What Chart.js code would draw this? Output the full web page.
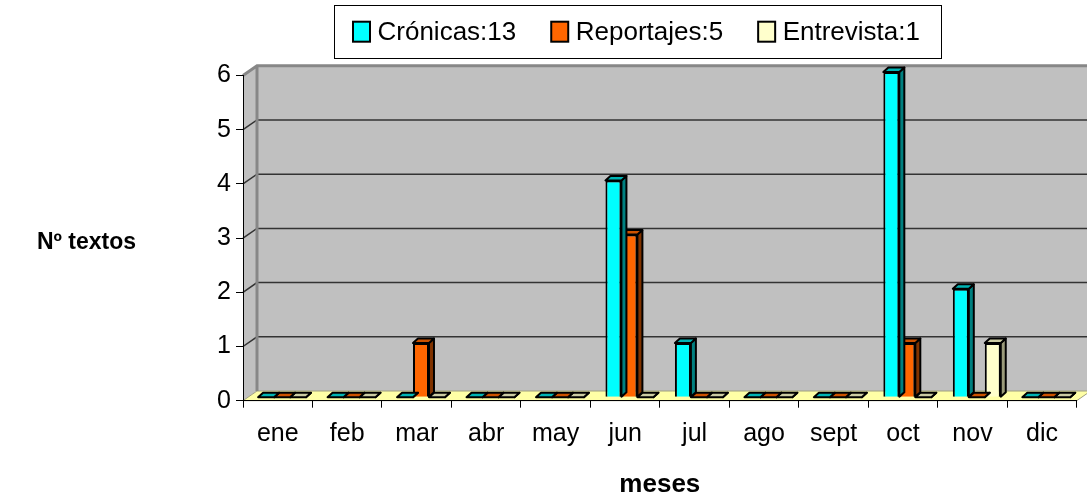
<!DOCTYPE html>
<html lang="es">
<head>
    <meta charset="UTF-8">
    <title>Textos por mes</title>
    <script src="https://cdn.jsdelivr.net/npm/chart.js@4"></script>
    <style>
        html, body { margin: 0; padding: 0; background: #fff; }
        #wrap { width: 1087px; height: 499px; }
    </style>
</head>
<body>
    <div id="wrap"><canvas id="chart" width="1087" height="499"></canvas></div>
    <script>
        // datos
        const meses = ["ene", "feb", "mar", "abr", "may", "jun", "jul", "ago", "sept", "oct", "nov", "dic"];
        const cronicas = [0, 0, 0, 0, 0, 4, 1, 0, 0, 6, 2, 0];
        const reportajes = [0, 0, 1, 0, 0, 3, 0, 0, 0, 1, 0, 0];
        const entrevista = [0, 0, 0, 0, 0, 0, 0, 0, 0, 0, 1, 0];
        const nombres = ["Crónicas:13", "Reportajes:5", "Entrevista:1"];
        const yMin = 0, yMax = 6, yPaso = 1;

        const PARED = { dx: 14, dy: -9.7 };   // profundidad de las paredes
        const BARRA = { dx: 5, dy: -4.5 };    // profundidad de las barras
        const DESPL = { x: 4.3, y: -3.5 };    // barras en medio del suelo
        const FUENTE = "'Liberation Sans', Arial, sans-serif";

        const poligono = (ctx, pts, relleno, borde, grosor) => {
            ctx.beginPath();
            ctx.moveTo(pts[0][0], pts[0][1]);
            pts.slice(1).forEach((p) => ctx.lineTo(p[0], p[1]));
            ctx.closePath();
            if (relleno) { ctx.fillStyle = relleno; ctx.fill(); }
            if (borde) { ctx.strokeStyle = borde; ctx.lineWidth = grosor; ctx.stroke(); }
        };

        // leyenda con marco, al estilo de Excel
        const dibujarLeyenda = (chart) => {
            const ctx = chart.ctx;
            const yc = 31.7;
            ctx.font = "26px " + FUENTE;
            ctx.textBaseline = "middle";
            ctx.textAlign = "left";
            let x = 353;
            chart.data.datasets.forEach((ds) => {
                ctx.fillStyle = ds.backgroundColor;
                ctx.fillRect(x, yc - 10, 17, 20);
                ctx.strokeStyle = "#000";
                ctx.lineWidth = 2;
                ctx.strokeRect(x, yc - 10, 17, 20);
                ctx.fillStyle = "#000";
                ctx.fillText(ds.label, x + 24.5, yc + 1);
                x += 24.5 + ctx.measureText(ds.label).width + 35;
            });
            ctx.lineWidth = 1;
            ctx.strokeRect(334.5, 5.5, Math.round(x - 35 + 21 - 334), 53);
        };

        // paredes, suelo y rejilla en 3D
        const fondo3d = {
            id: "fondo3d",
            beforeDraw(chart) {
                const { ctx, chartArea: a, scales: { y } } = chart;
                const { dx, dy } = PARED;
                const derecha = chart.width + 20;
                ctx.save();
                // pared lateral
                poligono(ctx, [[a.left, a.top], [a.left + dx, a.top + dy], [a.left + dx, a.bottom + dy], [a.left, a.bottom]], "#c0c0c0");
                // pared del fondo
                poligono(ctx, [[a.left + dx, a.top + dy], [derecha, a.top + dy], [derecha, a.bottom + dy], [a.left + dx, a.bottom + dy]], "#c0c0c0");
                // suelo
                poligono(ctx, [[a.left, a.bottom], [a.right, a.bottom], [a.right + dx, a.bottom + dy], [a.left + dx, a.bottom + dy]], "#ffffa6", "#a0a080", 1);
                // rejilla
                ctx.strokeStyle = "#333";
                ctx.lineWidth = 1.5;
                for (let v = yMin + yPaso; v < yMax; v += yPaso) {
                    const py = y.getPixelForValue(v);
                    ctx.beginPath();
                    ctx.moveTo(a.left, py);
                    ctx.lineTo(a.left + dx, py + dy);
                    ctx.lineTo(derecha, py + dy);
                    ctx.stroke();
                }
                // bordes grises de las paredes
                ctx.strokeStyle = "#878787";
                ctx.lineWidth = 3;
                ctx.beginPath();
                ctx.moveTo(a.left, a.top);
                ctx.lineTo(a.left + dx, a.top + dy);
                ctx.lineTo(derecha, a.top + dy);
                ctx.moveTo(a.left + dx, a.top + dy);
                ctx.lineTo(a.left + dx, a.bottom + dy);
                ctx.stroke();
                ctx.restore();
            },
            beforeDatasetDraw(chart) {
                chart.ctx.save();
                chart.ctx.translate(DESPL.x, DESPL.y);
            },
            afterDatasetDraw(chart, args) {
                const ctx = chart.ctx;
                const ds = chart.data.datasets[args.index];
                args.meta.data.forEach((bar) => {
                    const { x, y, base, width } = bar.getProps(["x", "y", "base", "width"], true);
                    const l = x - width / 2, r = x + width / 2;
                    ctx.lineJoin = "round";
                    poligono(ctx, [[r, y], [r + BARRA.dx, y + BARRA.dy], [r + BARRA.dx, base + BARRA.dy], [r, base]], ds.colorLado, "#000", 2);
                    poligono(ctx, [[l, y], [r, y], [r + BARRA.dx, y + BARRA.dy], [l + BARRA.dx, y + BARRA.dy]], ds.colorTapa, "#000", 2);
                });
                ctx.restore();
            },
            afterDraw(chart) {
                const ctx = chart.ctx;
                ctx.save();
                dibujarLeyenda(chart);
                // título del eje vertical, horizontal como en el original
                ctx.fillStyle = "#000";
                ctx.font = "bold 23px " + FUENTE;
                ctx.textAlign = "center";
                ctx.textBaseline = "middle";
                ctx.fillText("Nº textos", 86.5, 243);
                ctx.restore();
            }
        };

        Chart.defaults.font.family = FUENTE;
        Chart.defaults.color = "#000";

        const ctx = document.getElementById("chart").getContext("2d");
        new Chart(ctx, {
            type: "bar",
            data: {
                labels: meses,
                datasets: [
                    { label: nombres[0], data: cronicas, backgroundColor: "#00ffff", colorTapa: "#00b4b4", colorLado: "#008080" },
                    { label: nombres[1], data: reportajes, backgroundColor: "#ff6600", colorTapa: "#cc5200", colorLado: "#803300" },
                    { label: nombres[2], data: entrevista, backgroundColor: "#ffffcc", colorTapa: "#cccca3", colorLado: "#9a9a7a" },
                ],
            },
            options: {
                responsive: false,
                devicePixelRatio: 1,
                animation: false,
                layout: { padding: { top: 75.5, left: 198, right: 10.3, bottom: 0 } },
                datasets: {
                    bar: { borderColor: "#000", borderWidth: 2, categoryPercentage: 0.69, barPercentage: 1, clip: false },
                },
                plugins: {
                    legend: { display: false },
                    tooltip: { enabled: false },
                },
                scales: {
                    x: {
                        grid: { drawOnChartArea: false, tickLength: 7, color: "#000" },
                        border: { color: "#000", width: 1 },
                        ticks: { font: { size: 25 }, padding: 11 },
                        title: { display: true, text: "meses", font: { size: 26, weight: "bold", lineHeight: 1.1 }, padding: { top: 0, bottom: 0 } },
                        afterFit: (s) => { s.height = 98.3; },
                    },
                    y: {
                        min: yMin,
                        max: yMax,
                        grid: { drawOnChartArea: false, tickLength: 7, color: "#000" },
                        border: { color: "#000", width: 1 },
                        ticks: { stepSize: yPaso, font: { size: 25 }, padding: 5 },
                        afterFit: (s) => { s.width = 45; },
                    },
                },
            },
            plugins: [fondo3d],
        });
    </script>
</body>
</html>
